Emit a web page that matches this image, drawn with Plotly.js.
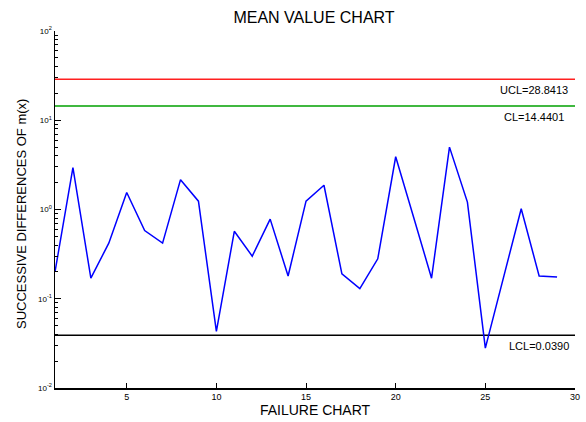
<!DOCTYPE html>
<html>
<head>
<meta charset="utf-8">
<script src="https://cdn.plot.ly/plotly-3.0.1.min.js"></script>
<style>html,body{margin:0;padding:0;background:#fff;}#chart{width:586px;height:422px;}</style>
</head>
<body>
<div id="chart"></div>
<script>
var failureIndex = [1,2,3,4,5,6,7,8,9,10,11,12,13,14,15,16,17,18,19,20,21,22,23,24,25,26,27,28,29];
var successiveDiff = [0.20,2.94,0.17,0.42,1.55,0.58,0.42,2.16,1.24,0.043,0.57,0.30,0.78,0.18,1.24,1.87,0.19,0.13,0.28,3.9,0.82,0.17,5.0,1.21,0.028,0.17,1.02,0.18,0.175];
var UCL = 28.8413, CL = 14.4401, LCL = 0.0390;
var limitNames = ['UCL','CL','LCL'];
var limitValues = [UCL, CL, LCL];
var limitColors = ['#ff2020','#00a000','#000000'];
var limitLabelX = [27.72, 27.74, 28.0];
var yTickVals = [0.01,0.1,1,10,100];
var yTickText = ['10<sup>-2</sup>','10<sup>-1</sup>','10<sup>0</sup>','10<sup>1</sup>','10<sup>2</sup>'];
var xTickVals = [5,10,15,20,25,30];

var traces = [];
limitValues.forEach(function(v,i){
  traces.push({x:[1,30], y:[v,v], mode:'lines', line:{color:limitColors[i], width:1.5}, hoverinfo:'skip', showlegend:false});
});
traces.push({x:failureIndex, y:successiveDiff, mode:'lines', line:{color:'#0000ff', width:1.5}, showlegend:false});

var FONT = 'Liberation Sans, Arial';
var annotations = limitValues.map(function(v,i){
  return {x:limitLabelX[i], y:Math.log10(v), xref:'x', yref:'y', xanchor:'center', yanchor:'top', yshift:-3,
    text: limitNames[i] + '=' + v.toFixed(4), showarrow:false, font:{family:FONT, size:11, color:'#000'}};
});
annotations.push({x:22, y:214, xref:'paper', yref:'paper', text:'SUCCESSIVE DIFFERENCES OF m(x)', textangle:-90,
  showarrow:false, xanchor:'center', yanchor:'middle', font:{family:FONT, size:13, color:'#000'}});

var layout = {
  width:586, height:422,
  margin:{l:55, r:11, t:31, b:34},
  paper_bgcolor:'#fff', plot_bgcolor:'#fff',
  font:{family:FONT, color:'#000'},
  title:{text:'MEAN VALUE CHART', font:{size:16, color:'#000'}, x:314/586, xanchor:'center', y:1-17/422, yanchor:'middle'},
  xaxis:{range:[1,30], tickvals:xTickVals, ticks:'inside', ticklen:5, tickcolor:'#000', showline:true, linecolor:'#000', linewidth:1.5,
    showgrid:false, zeroline:false, tickfont:{size:9}, title:{text:'FAILURE CHART', font:{size:14}, standoff:3}},
  yaxis:{type:'log', range:[-2,2], tickvals:yTickVals, ticktext:yTickText, ticks:'inside', ticklen:6, tickcolor:'#000',
    showline:true, linecolor:'#000', linewidth:1.5, showgrid:false, zeroline:false, tickfont:{size:8},
    minor:{ticks:'inside', ticklen:3, tickcolor:'#000', tickvals:[0.02,0.03,0.04,0.05,0.06,0.07,0.08,0.09,0.2,0.3,0.4,0.5,0.6,0.7,0.8,0.9,2,3,4,5,6,7,8,9,20,30,40,50,60,70,80,90]}},
  annotations:annotations,
  showlegend:false
};
// paper coords for the rotated y title
layout.annotations[3].x = 22/586 - 55/(586-66);
layout.annotations[3].x = (22-55)/(586-55-11);
layout.annotations[3].y = (422-34-214)/(422-31-34);
Plotly.newPlot('chart', traces, layout, {staticPlot:true, displayModeBar:false});
</script>
</body>
</html>
